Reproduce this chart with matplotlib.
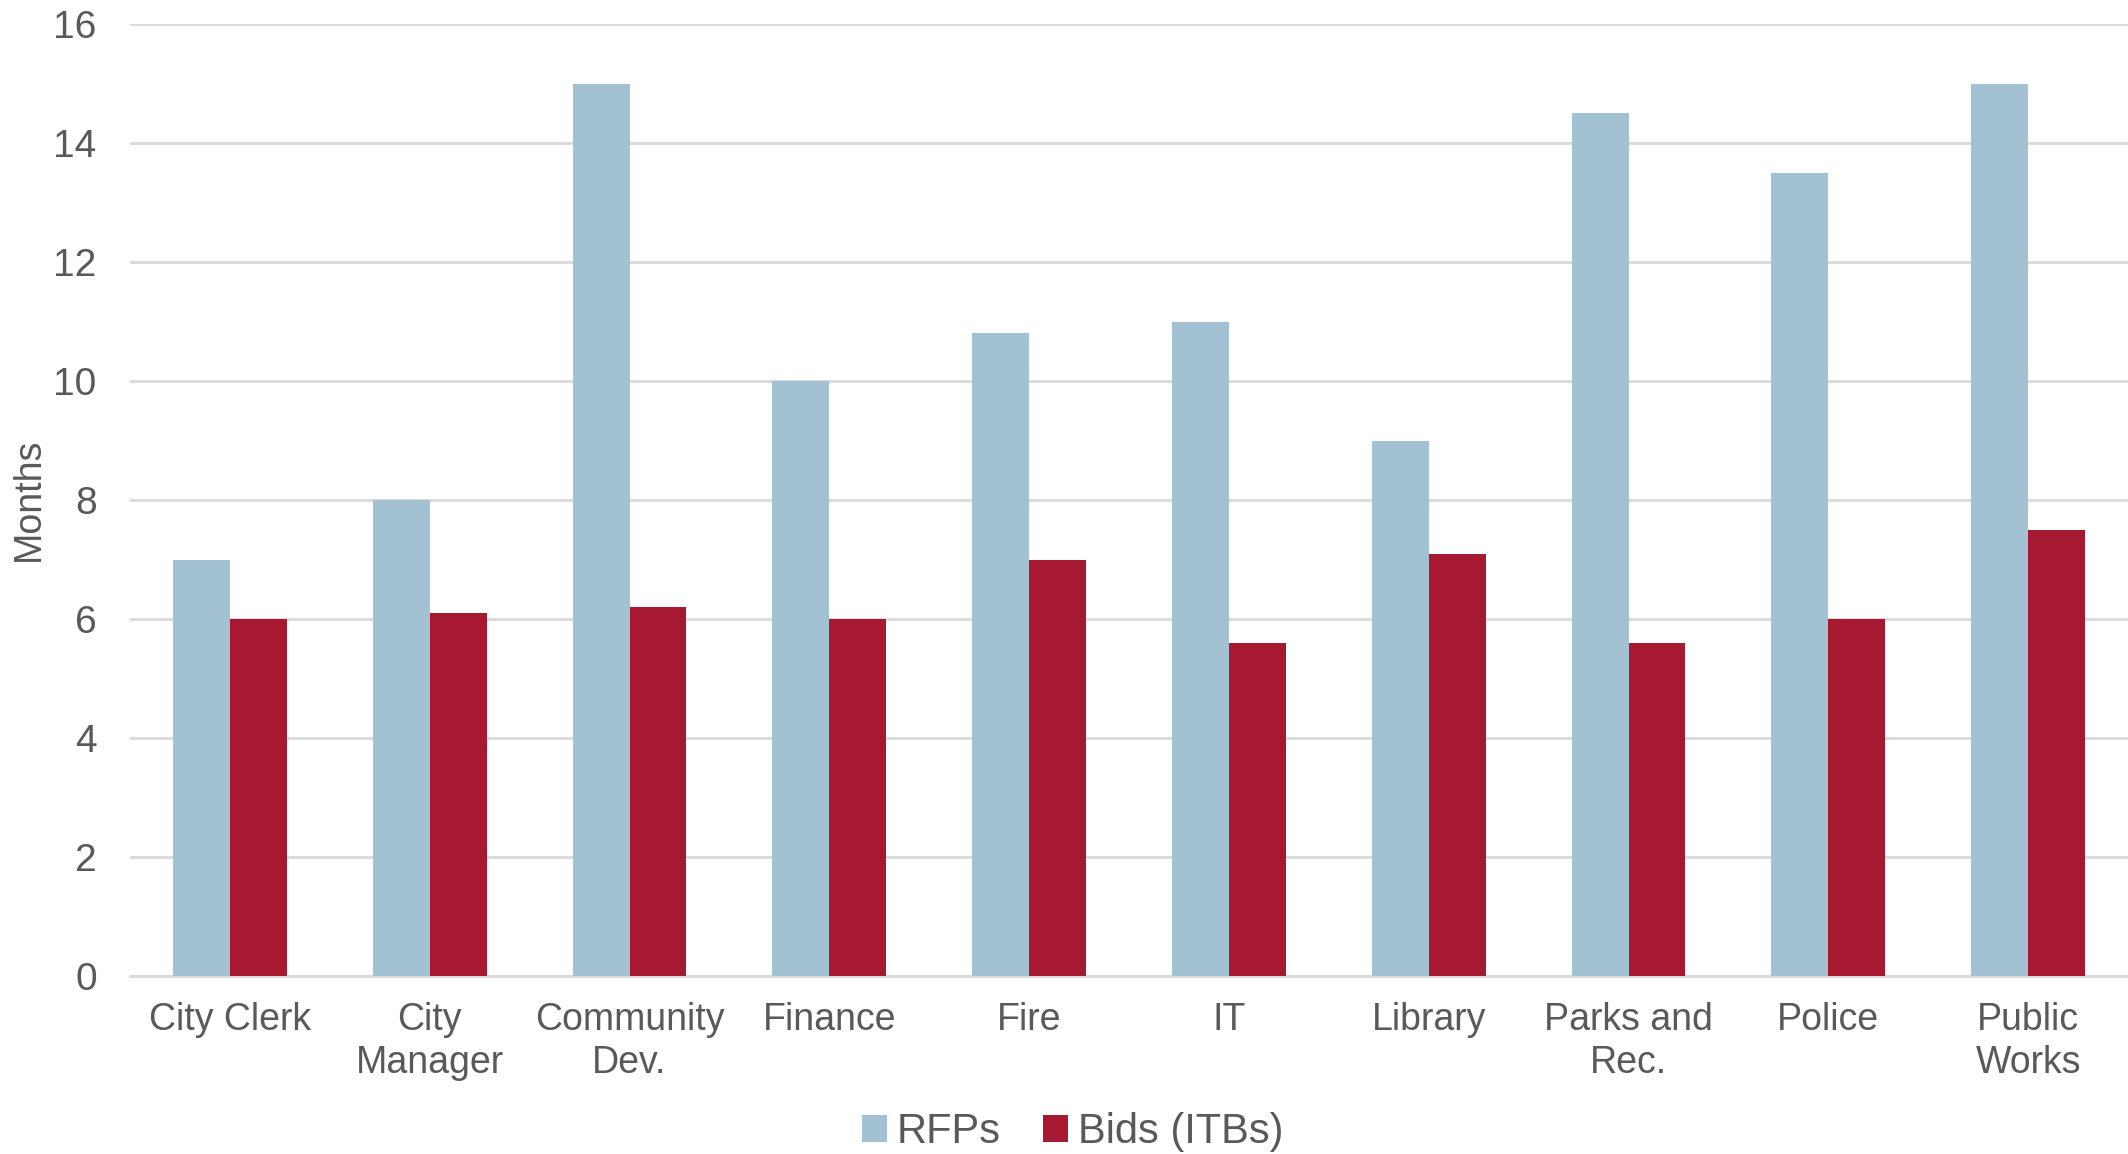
import matplotlib.pyplot as plt
import numpy as np

plt.rcParams['font.family'] = ['Liberation Sans', 'DejaVu Sans']

departments = ['City Clerk', 'City\nManager', 'Community\nDev.', 'Finance', 'Fire',
               'IT', 'Library', 'Parks and\nRec.', 'Police', 'Public\nWorks']
rfps = [7.0, 8.0, 15.0, 10.0, 10.8, 11.0, 9.0, 14.5, 13.5, 15.0]
bids = [6.0, 6.1, 6.2, 6.0, 7.0, 5.6, 7.1, 5.6, 6.0, 7.5]

rfp_color = '#A2C1D2'
bid_color = '#A71931'
text_color = '#595959'
grid_color = '#D9D9D9'

fig = plt.figure(figsize=(21.28, 11.54), dpi=100)
ax = fig.add_axes([0.0611, 0.1542, 0.9389, 0.825])

x = np.arange(len(departments))
width = 0.285
ax.bar(x - width / 2, rfps, width, color=rfp_color, label='RFPs', zorder=3)
ax.bar(x + width / 2, bids, width, color=bid_color, label='Bids (ITBs)', zorder=3)

ax.set_xlim(-0.5, len(departments) - 0.5)
ax.set_ylim(0, 16)
ax.set_yticks(range(0, 17, 2))
ax.yaxis.grid(True, color=grid_color, linewidth=2, zorder=0)
ax.set_axisbelow(True)

ax.set_xticks(x)
ax.set_xticklabels(departments, fontsize=27, color=text_color, linespacing=1.25)
ax.tick_params(axis='y', labelsize=28, labelcolor=text_color, length=0, pad=24)
ax.tick_params(axis='x', length=0, pad=19)

for side in ['top', 'right', 'left']:
    ax.spines[side].set_visible(False)
ax.spines['bottom'].set_color(grid_color)
ax.spines['bottom'].set_linewidth(2)

fig.text(0.0135, 0.567, 'Months', rotation=90, fontsize=27,
         color=text_color, ha='center', va='center')

leg = fig.legend(loc='center', bbox_to_anchor=(0.504, 0.019), ncol=2, frameon=False,
                 fontsize=30, handlelength=0.6, handleheight=0.6, handletextpad=0.25,
                 columnspacing=1.0)
for t in leg.get_texts():
    t.set_color(text_color)

fig.savefig('out.png', dpi=100)
